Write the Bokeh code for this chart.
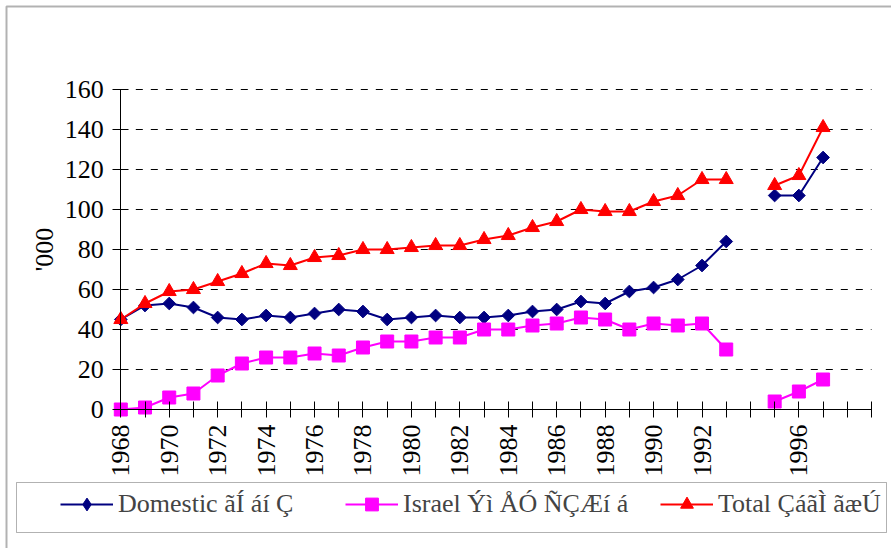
import math
from bokeh.plotting import figure
from bokeh.models import Range1d, FixedTicker, Legend, LegendItem, BoxAnnotation, ColumnDataSource
from bokeh.embed import file_html
from bokeh.resources import INLINE

nan = float("nan")

# category axis (Excel-style): 1994 has no label/data, two empty slots at the end
categories = [str(y) for y in range(1968, 1994)] + ["", "1995", "1996", "1997", "", ""]

domestic = [45, 52, 53, 51, 46, 45, 47, 46, 48, 50, 49, 45, 46, 47, 46, 46,
            47, 49, 50, 54, 53, 59, 61, 65, 72, 84, nan, 107, 107, 126]
israel = [0, 1, 6, 8, 17, 23, 26, 26, 28, 27, 31, 34, 34, 36, 36, 40,
          40, 42, 43, 46, 45, 40, 43, 42, 43, 30, nan, 4, 9, 15]
total = [45, 53, 59, 60, 64, 68, 73, 72, 76, 77, 80, 80, 81, 82, 82, 85,
         87, 91, 94, 100, 99, 99, 104, 107, 115, 115, nan, 112, 117, 141]

series_names = ["Domestic ãÍ áí Ç", "Israel Ýì ÅÓ ÑÇÆí á", "Total ÇáãÌ ãæÚ"]
y_ticks = [0, 20, 40, 60, 80, 100, 120, 140, 160]

FONT = "'Liberation Serif', 'Times New Roman', serif"
FS = "26px"

W, H = 891, 548
PX_X = 24.217            # pixels per category
PX_Y = 2.0               # pixels per unit
AX_X, AX_Y = 120.3, 409  # canvas position of the axes origin

x = list(range(len(domestic)))
src = ColumnDataSource(dict(x=x, domestic=domestic, israel=israel, total=total))

n_cat = len(categories) - 1
x0 = -AX_X / PX_X
y0 = -(H - AX_Y) / PX_Y
p = figure(width=W, height=H, output_backend="svg", toolbar_location=None,
           title_location=None,
           x_range=Range1d(x0, x0 + W / PX_X), y_range=Range1d(y0, y0 + H / PX_Y),
           min_border=0, min_border_left=0, min_border_right=0,
           min_border_top=0, min_border_bottom=0)
p.background_fill_color = "white"
p.border_fill_color = "white"
p.outline_line_color = None
p.xgrid.grid_line_color = None
p.ygrid.grid_line_color = None

# horizontal dashed gridlines across the plot area
p.segment(x0=[0] * (len(y_ticks) - 1), x1=[n_cat] * (len(y_ticks) - 1),
          y0=y_ticks[1:], y1=y_ticks[1:], line_color="black", line_width=1,
          line_dash="7 8", line_dash_offset=0)

# axes
p.xaxis.ticker = FixedTicker(ticks=list(range(len(categories))))
p.xaxis.major_label_overrides = {i: (c if i % 2 == 0 else "") for i, c in enumerate(categories)}
p.xaxis.major_label_orientation = math.pi / 2
p.xaxis.fixed_location = 0
p.xaxis.bounds = (0, n_cat)
p.yaxis.ticker = FixedTicker(ticks=y_ticks)
p.yaxis.fixed_location = 0
p.yaxis.bounds = (0, 160)
for ax in (p.xaxis, p.yaxis):
    ax.axis_line_color = "black"
    ax.major_tick_line_color = "black"
    ax.minor_tick_line_color = None
    ax.major_tick_in = 8
    ax.major_tick_out = 8
    ax.major_label_text_font = FONT
    ax.major_label_text_font_size = FS
    ax.major_label_text_color = "black"
    ax.axis_label_text_font = FONT
    ax.axis_label_text_font_size = FS
    ax.axis_label_text_font_style = "normal"
    ax.axis_label_text_color = "black"
p.xaxis.major_label_standoff = 7
p.yaxis.major_label_standoff = 9
p.yaxis.axis_label = "'000"
p.yaxis.axis_label_standoff = 3

# series
l1 = p.line("x", "domestic", source=src, line_color="#000080", line_width=2)
m1 = p.scatter("x", "domestic", source=src, marker="square", angle=math.pi / 4, size=9,
               fill_color="#000080", line_color="#000080")
l2 = p.line("x", "israel", source=src, line_color="#FF00FF", line_width=2)
m2 = p.scatter("x", "israel", source=src, marker="square", size=13,
               fill_color="#FF00FF", line_color="#FF00FF")
l3 = p.line("x", "total", source=src, line_color="#FF0000", line_width=2)
m3 = p.scatter("x", "total", source=src, marker="triangle", size=14,
               fill_color="#FF0000", line_color="#FF0000")
# legend-only diamond glyph (the legend does not rotate markers)
d_leg = p.scatter(x=[nan], y=[nan], marker="diamond", size=13,
                  fill_color="#000080", line_color="#000080")

# outer chart-area border (left & top visible) and legend box
p.add_layout(BoxAnnotation(left=6, right=3000, top=6, bottom=3000,
                           left_units="canvas", right_units="canvas",
                           top_units="canvas", bottom_units="canvas",
                           fill_alpha=0, line_color="black", line_width=2, level="overlay"))
p.add_layout(BoxAnnotation(left=16, right=886, top=482, bottom=532,
                           left_units="canvas", right_units="canvas",
                           top_units="canvas", bottom_units="canvas",
                           fill_alpha=0, line_color="black", line_width=1, level="overlay"))

for name, rs, xloc in zip(series_names, [[l1, d_leg], [l2, m2], [l3, m3]], [60, 345, 660]):
    leg = Legend(items=[LegendItem(label=name, renderers=rs)], location=(xloc, 28),
                 border_line_color=None, background_fill_alpha=0, padding=0, margin=0,
                 spacing=0, glyph_width=53, glyph_height=32, label_standoff=5,
                 label_text_font=FONT, label_text_font_size=FS, label_height=20)
    p.add_layout(leg, "center")

open("out.html", "w").write(file_html(p, INLINE))
